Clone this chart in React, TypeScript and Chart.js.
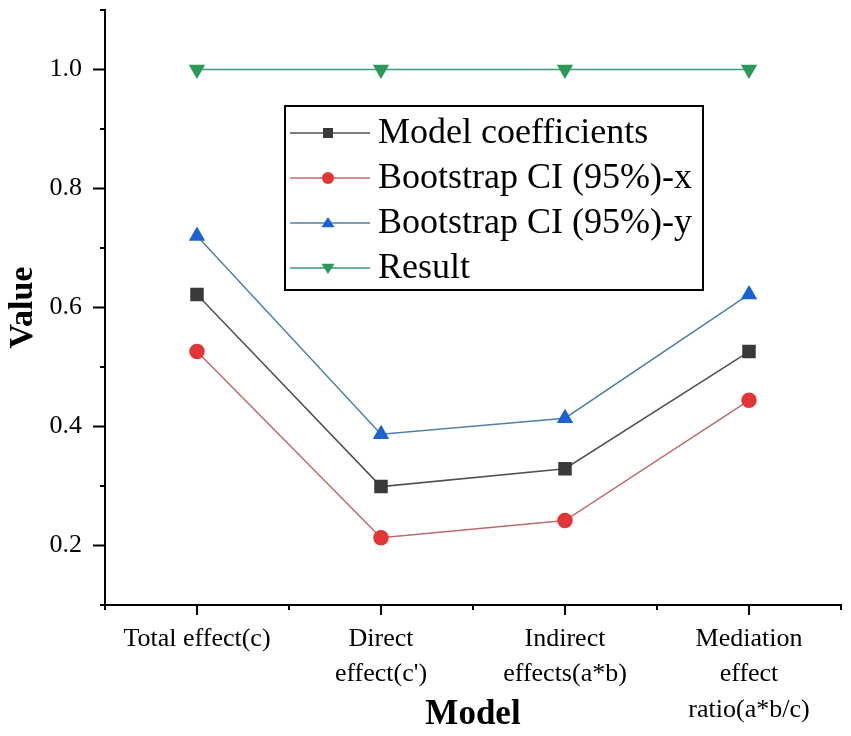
import { useEffect, useRef } from "react"
import { Chart, registerables, type ChartConfiguration, type Plugin } from "chart.js"

Chart.register(...registerables)

const categories: (string | string[])[] = [
  "Total effect(c)",
  ["Direct", "effect(c')"],
  ["Indirect", "effects(a*b)"],
  ["Mediation", "effect", "ratio(a*b/c)"],
]

const modelCoefficients = [0.622, 0.299, 0.329, 0.526]
const bootstrapX = [0.526, 0.213, 0.242, 0.444]
const bootstrapY = [0.72, 0.387, 0.414, 0.622]
const result = [1.0, 1.0, 1.0, 1.0]

const labeledTicks = [0.2, 0.4, 0.6, 0.8, 1.0]

const SERIF = "'Liberation Serif', 'Times New Roman', serif"

const isLabeled = (v: number) => labeledTicks.some((t) => Math.abs(t - v) < 1e-6)

// custom tick marks (long majors, short minors) like Origin output
const axisTicks: Plugin = {
  id: "axisTicks",
  afterDraw(chart) {
    const { ctx, chartArea, scales } = chart
    const x = scales.x
    const y = scales.y
    ctx.save()
    ctx.strokeStyle = "#000"
    ctx.lineWidth = 2
    ctx.beginPath()
    y.ticks.forEach((t) => {
      const py = y.getPixelForValue(t.value)
      const len = isLabeled(t.value) ? 12 : 5
      ctx.moveTo(chartArea.left - len, py)
      ctx.lineTo(chartArea.left, py)
    })
    const n = categories.length
    const step = x.getPixelForValue(1) - x.getPixelForValue(0)
    for (let i = 0; i < n; i++) {
      const px = x.getPixelForValue(i)
      ctx.moveTo(px, chartArea.bottom)
      ctx.lineTo(px, chartArea.bottom + 10)
    }
    for (let i = 0; i <= n; i++) {
      const px = x.getPixelForValue(0) - step / 2 + i * step
      ctx.moveTo(px, chartArea.bottom)
      ctx.lineTo(px, chartArea.bottom + 5)
    }
    ctx.stroke()
    ctx.restore()
  },
}

// legend box drawn inside the plot area
const insideLegend: Plugin = {
  id: "insideLegend",
  afterDraw(chart) {
    const { ctx, chartArea } = chart
    const left = chartArea.left + 180
    const top = chartArea.top + 96
    const w = 418
    const h = 184
    const rowH = 45
    ctx.save()
    ctx.fillStyle = "#fff"
    ctx.fillRect(left, top, w, h)
    ctx.strokeStyle = "#000"
    ctx.lineWidth = 2
    ctx.strokeRect(left, top, w, h)
    chart.data.datasets.forEach((ds: any, i: number) => {
      const cy = top + 27 + i * rowH
      ctx.strokeStyle = ds.borderColor
      ctx.lineWidth = 1.5
      ctx.beginPath()
      ctx.moveTo(left + 5, cy)
      ctx.lineTo(left + 85, cy)
      ctx.stroke()
      ctx.fillStyle = ds.pointBackgroundColor
      const style = ds.pointStyle
      const r = 6
      ctx.beginPath()
      const mx = left + 43
      if (style === "rect") {
        ctx.rect(mx - 5, cy - 5, 10, 10)
      } else if (style === "circle") {
        ctx.arc(mx, cy, r, 0, Math.PI * 2)
      } else if (style === "triangle") {
        const down = ds.pointRotation === 180 ? -1 : 1
        ctx.moveTo(mx, cy - down * r)
        ctx.lineTo(mx + r * 1.1, cy + down * r * 0.7)
        ctx.lineTo(mx - r * 1.1, cy + down * r * 0.7)
        ctx.closePath()
      }
      ctx.fill()
      ctx.fillStyle = "#000"
      ctx.font = `36px ${SERIF}`
      ctx.textBaseline = "middle"
      ctx.textAlign = "left"
      ctx.fillText(ds.label, left + 93, cy + 1)
    })
    ctx.restore()
  },
}

export default function App() {
  const canvasRef = useRef<HTMLCanvasElement>(null)
  const chartRef = useRef<Chart | null>(null)

  useEffect(() => {
    if (!canvasRef.current) return
    document.body.style.margin = "0"

    const config: ChartConfiguration = {
      type: "line",
      data: {
        labels: categories as any,
        datasets: [
          {
            label: "Model coefficients",
            data: modelCoefficients,
            borderColor: "#505050",
            borderWidth: 1.5,
            pointStyle: "rect",
            pointRadius: 8.5,
            pointBackgroundColor: "#3a3a3a",
            pointBorderColor: "#3a3a3a",
          },
          {
            label: "Bootstrap CI (95%)-x",
            data: bootstrapX,
            borderColor: "#bd6b6b",
            borderWidth: 1.5,
            pointStyle: "circle",
            pointRadius: 7,
            pointBackgroundColor: "#e23535",
            pointBorderColor: "#e23535",
          },
          {
            label: "Bootstrap CI (95%)-y",
            data: bootstrapY,
            borderColor: "#4f80a8",
            borderWidth: 1.5,
            pointStyle: "triangle",
            pointRadius: 8,
            pointBackgroundColor: "#1d62d3",
            pointBorderColor: "#1d62d3",
          },
          {
            label: "Result",
            data: result,
            borderColor: "#3f9a70",
            borderWidth: 1.5,
            pointStyle: "triangle",
            pointRotation: 180,
            pointRadius: 8,
            pointBackgroundColor: "#2a9a5c",
            pointBorderColor: "#2a9a5c",
          },
        ] as any,
      },
      options: {
        animation: false,
        responsive: true,
        maintainAspectRatio: false,
        layout: { padding: { top: 10, right: 10, left: 0, bottom: 0 } },
        plugins: {
          legend: { display: false },
          tooltip: { enabled: false },
        },
        scales: {
          x: {
            type: "category",
            offset: true,
            grid: { display: true, drawOnChartArea: false, drawTicks: false },
            border: { display: true, color: "#000", width: 2 },
            ticks: {
              color: "#000",
              font: { family: SERIF, size: 26, lineHeight: 1.35 },
              padding: 17,
              maxRotation: 0,
              autoSkip: false,
            },
            title: {
              display: true,
              text: "Model",
              color: "#000",
              font: { family: SERIF, size: 35, weight: "bold", lineHeight: 1.2 },
              padding: { top: 0, bottom: 0 },
            },
            afterFit: (scale: any) => {
              scale.height = 131
              scale.paddingLeft = 0
              scale.paddingRight = 0
            },
          },
          y: {
            type: "linear",
            min: 0.1,
            max: 1.1,
            grid: { display: true, drawOnChartArea: false, drawTicks: false },
            border: { display: true, color: "#000", width: 2 },
            ticks: {
              stepSize: 0.1,
              color: "#000",
              font: { family: SERIF, size: 26 },
              padding: 23,
              callback: (v: any) => (isLabeled(Number(v)) ? Number(v).toFixed(1) : ""),
            },
            title: {
              display: true,
              text: "Value",
              color: "#000",
              font: { family: SERIF, size: 34, weight: "bold", lineHeight: 1.2 },
              padding: { top: 3, bottom: 0 },
            },
            afterFit: (scale: any) => {
              scale.width = 105
              scale.paddingTop = 0
              scale.paddingBottom = 0
            },
          },
        },
      },
      plugins: [axisTicks, insideLegend],
    }

    chartRef.current?.destroy()
    chartRef.current = new Chart(canvasRef.current, config)

    return () => {
      chartRef.current?.destroy()
      chartRef.current = null
    }
  }, [])

  return (
    <div style={{ width: 851, height: 736, position: "relative", background: "#fff" }}>
      <canvas ref={canvasRef} />
    </div>
  )
}
